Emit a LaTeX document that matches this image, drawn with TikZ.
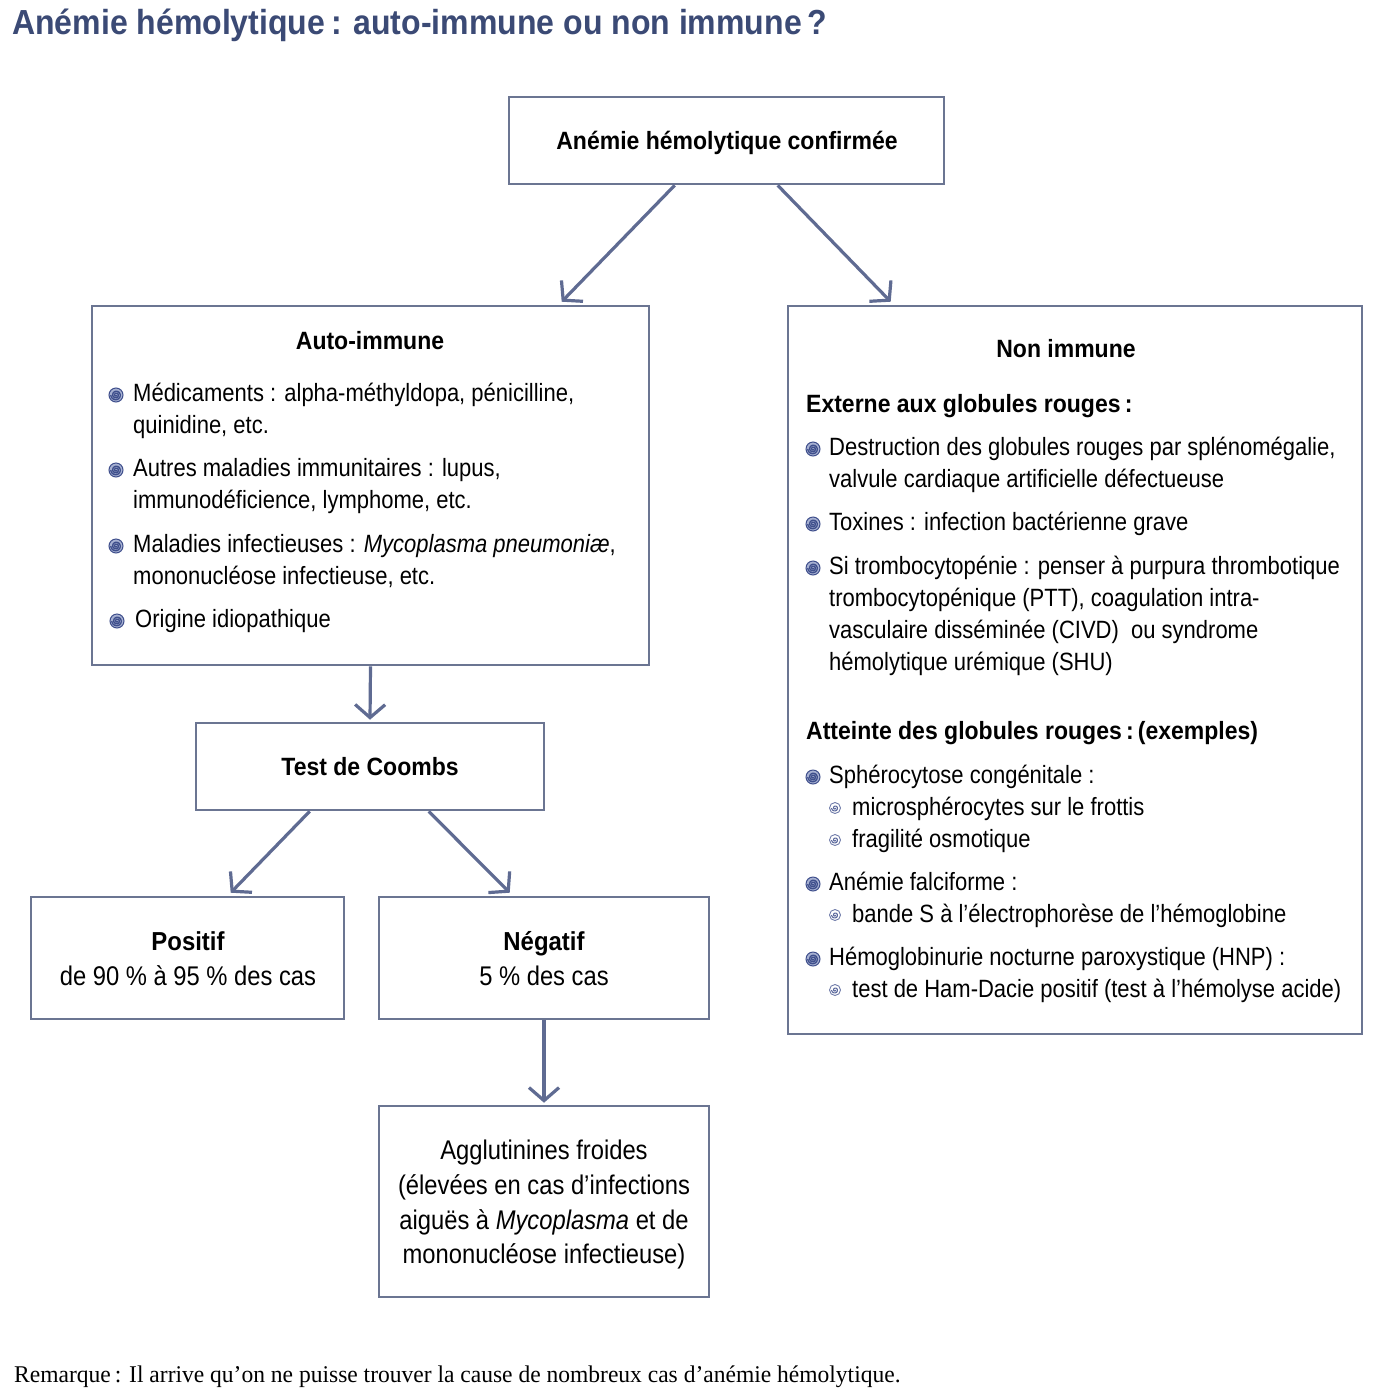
\documentclass[tikz,border=0pt]{standalone}
\usepackage{fontspec}
\setmainfont{Liberation Sans}[FakeStretch=0.88,BoldFeatures={FakeStretch=0.92}]
\newfontfamily\notefont{Liberation Serif}[FakeStretch=0.98]
\usetikzlibrary{arrows.meta,calc}
\definecolor{titlecol}{HTML}{3B4A75}
\definecolor{boxcol}{HTML}{6B7592}
\definecolor{arrcol}{HTML}{5F6B92}
\definecolor{bulcol}{HTML}{3F4F8C}
\definecolor{bulfill}{HTML}{A7B1D2}
\begin{document}
\begin{tikzpicture}[x=1pt,y=-1pt,
  box/.style={draw=boxcol,line width=2.6pt,fill=white,inner sep=0pt},
  txt/.style={anchor=base west,inner sep=0pt,font=\fontsize{25}{28}\selectfont},
  btxt/.style={anchor=base west,inner sep=0pt,font=\fontsize{25}{28}\selectfont\bfseries},
  ctxt/.style={anchor=base,inner sep=0pt,font=\fontsize{25}{28}\selectfont},
  cbtxt/.style={anchor=base,inner sep=0pt,font=\fontsize{25}{28}\selectfont\bfseries},
  ltxt/.style={anchor=base,inner sep=0pt,font=\fontsize{27}{30}\selectfont},
  lbtxt/.style={anchor=base,inner sep=0pt,font=\fontsize{26}{30}\selectfont\bfseries},
  arr/.style={draw=arrcol,line width=3.2pt,-{Straight Barb[length=13pt,width=30pt,line width=3.2pt]}},
  bigbul/.pic={\fill[bulfill] (0,0) circle (7);
    \draw[bulcol,line width=1pt] (0,0) circle (7);
    \draw[bulcol,line width=1.3pt,domain=0:900,samples=60,smooth,variable=\t] plot ({\t}:{0.4+\t/900*4.8});},
  smallbul/.pic={\fill[white] (0,0) circle (5.5);
    \draw[bulcol!75,line width=0.9pt] (0,0) circle (5.5);
    \draw[bulcol!85,line width=1.1pt,domain=0:540,samples=40,smooth,variable=\t] plot ({\t}:{0.4+\t/540*3});}
]
\useasboundingbox (0,0) rectangle (1374,1398);
\fill[white] (0,0) rectangle (1374,1398);

% title
\node[anchor=base west,inner sep=0pt,text=titlecol,font=\fontsize{34.8}{38}\selectfont\bfseries] (title) at (12,34) {Anémie hémolytique\,: auto-immune ou non immune\,?};

% boxes
\node[box,minimum width=435pt,minimum height=87pt] (top) at (726.5,140.5) {};
\node[box,minimum width=557pt,minimum height=359pt] (auto) at (370.5,485.5) {};
\node[box,minimum width=574pt,minimum height=728pt] (non) at (1075,670) {};
\node[box,minimum width=348pt,minimum height=87pt] (coombs) at (370,766.5) {};
\node[box,minimum width=313pt,minimum height=122pt] (pos) at (187.5,958) {};
\node[box,minimum width=330pt,minimum height=122pt] (neg) at (544,958) {};
\node[box,minimum width=330pt,minimum height=191pt] (agg) at (544,1201.5) {};

% arrows
\draw[arr] ($(top.south west)+(167,0)$) -- ($(auto.north west)+(471,-3)$);
\draw[arr] ($(top.south west)+(270,0)$) -- ($(non.north west)+(104,-3)$);
\draw[arr] (auto.south) -- ($(coombs.north)+(0,-2)$);
\draw[arr] ($(coombs.south west)+(115,0)$) -- ($(pos.north west)+(201,-3)$);
\draw[arr] ($(coombs.south west)+(234,0)$) -- ($(neg.north west)+(132,-3)$);
\draw[arr] (neg.south) -- ($(agg.north)+(0,-2)$);

% top box text
\node[cbtxt] (ttop) at (727,149) {Anémie hémolytique confirmée};

% auto-immune
\node[cbtxt] (tauto) at (370,349) {Auto-immune};
\pic at (116,395) {bigbul};
\node[txt] (a1) at (133,401) {Médicaments : alpha-méthyldopa, pénicilline,};
\node[txt] (a1b) at (133,433) {quinidine, etc.};
\pic at (116,470) {bigbul};
\node[txt] (a2) at (133,476) {Autres maladies immunitaires : lupus,};
\node[txt] (a2b) at (133,508) {immunodéficience, lymphome, etc.};
\pic at (116,546) {bigbul};
\node[txt] (a3) at (133,552) {Maladies infectieuses : \textit{Mycoplasma pneumoniæ},};
\node[txt] (a3b) at (133,584) {mononucléose infectieuse, etc.};
\pic at (117,621) {bigbul};
\node[txt] (a4) at (135,627) {Origine idiopathique};

% non immune
\node[cbtxt] (tnon) at (1066,357) {Non immune};
\node[btxt] (ext) at (806,412) {Externe aux globules rouges\,:};
\pic at (813,449) {bigbul};
\node[txt] (n1) at (829,455) {Destruction des globules rouges par splénomégalie,};
\node[txt] (n1b) at (829,487) {valvule cardiaque artificielle défectueuse};
\pic at (813,524) {bigbul};
\node[txt] (n2) at (829,530) {Toxines : infection bactérienne grave};
\pic at (813,568) {bigbul};
\node[txt] (n3) at (829,574) {Si trombocytopénie : penser à purpura thrombotique};
\node[txt] (n3b) at (829,606) {trombocytopénique (PTT), coagulation intra-};
\node[txt] (n3c) at (829,638) {vasculaire disséminée (CIVD)\ \ ou syndrome};
\node[txt] (n3d) at (829,670) {hémolytique urémique (SHU)};
\node[btxt] (att) at (806,739) {Atteinte des globules rouges\,:\,(exemples)};
\pic at (813,777) {bigbul};
\node[txt] (n4) at (829,783) {Sphérocytose congénitale :};
\pic at (835,808) {smallbul};
\node[txt] (n4a) at (852,815) {microsphérocytes sur le frottis};
\pic at (835,840) {smallbul};
\node[txt] (n4b) at (852,847) {fragilité osmotique};
\pic at (813,884) {bigbul};
\node[txt] (n5) at (829,890) {Anémie falciforme :};
\pic at (835,915) {smallbul};
\node[txt] (n5a) at (852,922) {bande S à l’électrophorèse de l’hémoglobine};
\pic at (813,959) {bigbul};
\node[txt] (n6) at (829,965) {Hémoglobinurie nocturne paroxystique (HNP) :};
\pic at (835,990) {smallbul};
\node[txt] (n6a) at (852,997) {test de Ham-Dacie positif (test à l'hémolyse acide)};

% coombs
\node[cbtxt] (tco) at (370,775) {Test de Coombs};
\node[lbtxt] (tpos) at (188,950) {Positif};
\node[ltxt] (tpos2) at (188,985) {de 90 \% à 95 \% des cas};
\node[lbtxt] (tneg) at (544,950) {Négatif};
\node[ltxt] (tneg2) at (544,985) {5 \% des cas};

% agglutinines
\node[ltxt] (g1) at (544,1159) {Agglutinines froides};
\node[ltxt] (g2) at (544,1194) {(élevées en cas d’infections};
\node[ltxt] (g3) at (544,1229) {aiguës à \textit{Mycoplasma} et de};
\node[ltxt] (g4) at (544,1263) {mononucléose infectieuse)};

% note
\node[anchor=base west,inner sep=0pt,font=\notefont\fontsize{24}{26}\selectfont] (note) at (14,1382) {Remarque\,: Il arrive qu’on ne puisse trouver la cause de nombreux cas d’anémie hémolytique.};
\end{tikzpicture}
\end{document}
